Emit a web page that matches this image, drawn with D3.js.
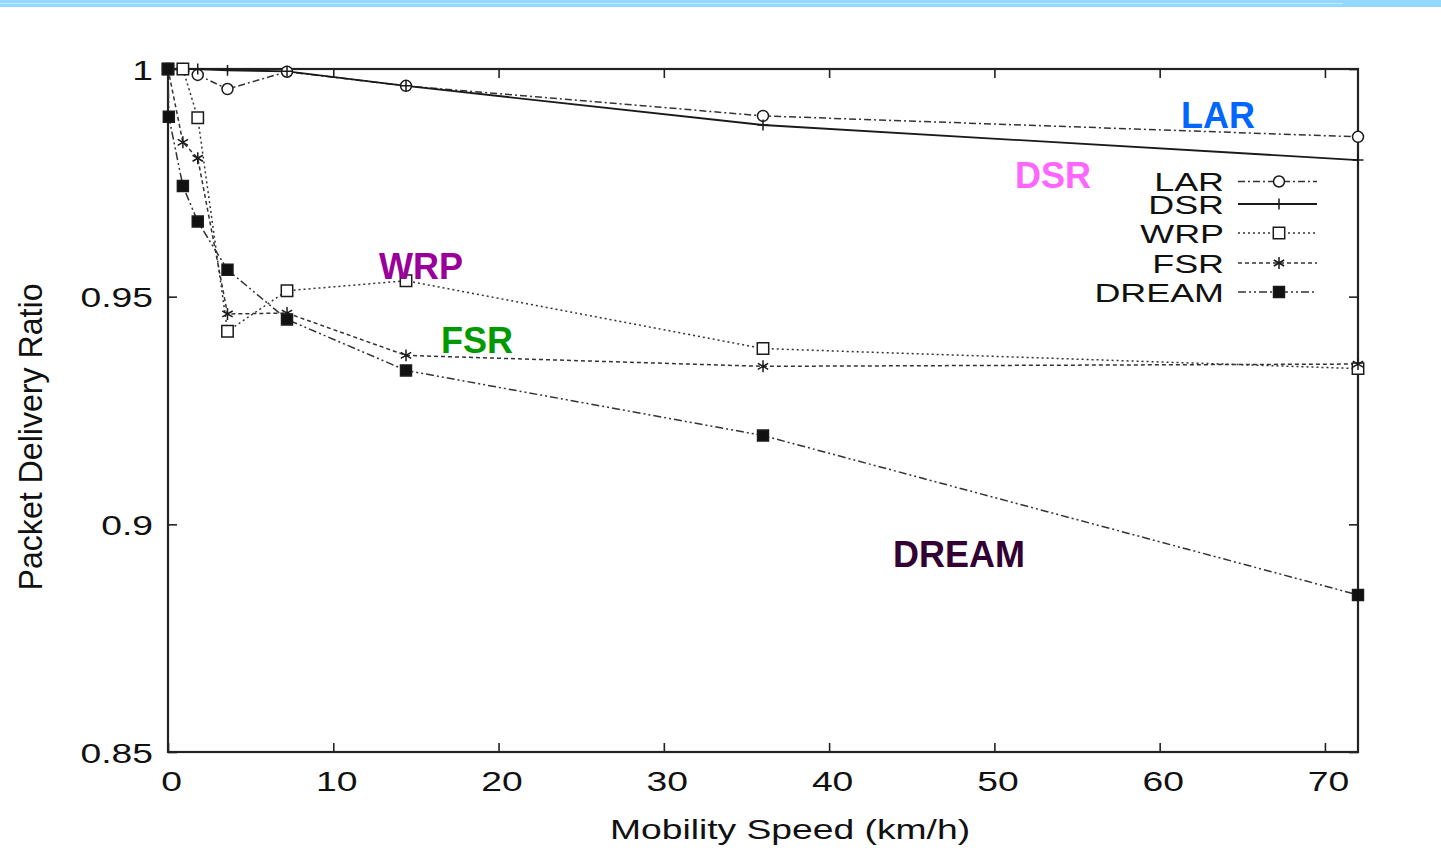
<!DOCTYPE html>
<html>
<head>
<meta charset="utf-8">
<script src="https://cdn.jsdelivr.net/npm/d3@7"></script>
<style>
  html, body { margin: 0; padding: 0; background: #fff; }
  svg { display: block; }
</style>
</head>
<body>
<div id="chart"></div>
<script>
// speeds in km/h
const speeds = [0, 0.9, 1.8, 3.6, 7.2, 14.4, 36, 72];
const dreamSpeeds = [0, 0.05, 0.9, 1.8, 3.6, 7.2, 14.4, 36, 72];

const lar = [1, 1, 0.9987, 0.9956, 0.9994, 0.9963, 0.9897, 0.9851];
const dsr = [1, 1, 1, 0.9997, 0.9995, 0.9963, 0.9877, 0.9800];
const wrp = [1, 1, 0.9893, 0.9424, 0.9513, 0.9535, 0.9386, 0.9342];
const fsr = [1, 0.9839, 0.9804, 0.9462, 0.9464, 0.9371, 0.9347, 0.9352];
const dream = [1, 0.9895, 0.9743, 0.9665, 0.9559, 0.9450, 0.9338, 0.9195, 0.8845];

const xTicks = [0, 10, 20, 30, 40, 50, 60, 70];
const yTicks = [0.85, 0.9, 0.95, 1];
const yTickLabels = ["0.85", "0.9", "0.95", "1"];

const seriesNames = ["LAR", "DSR", "WRP", "FSR", "DREAM"];
const labelColors = ["#0066ff", "#ff66ff", "#990099", "#009900", "#330033"];

const width = 1441, height = 866;
const margins = { top: 69, right: 83, bottom: 114, left: 168 };
const innerWidth = width - margins.left - margins.right;
const innerHeight = height - margins.top - margins.bottom;
const stretch = 1.33; // the scanned figure is wider than tall

const svg = d3.select("#chart").append("svg")
  .attr("width", width).attr("height", height)
  .style("font-family", "'Liberation Sans', Arial, Helvetica, sans-serif");

// widen a text horizontally without a transform
function widen(sel, k) {
  sel.each(function () {
    const w = this.getComputedTextLength();
    d3.select(this).attr("textLength", w * k).attr("lengthAdjust", "spacingAndGlyphs");
  });
}

// light blue band at the top of the slide
svg.append("rect").attr("x", 0).attr("y", 0).attr("width", width).attr("height", 7).attr("fill", "#93d9ff");
svg.append("line").attr("x1", 0).attr("x2", 1343).attr("y1", 3.5).attr("y2", 3.5)
  .attr("stroke", "#c4ecff").attr("stroke-width", 1);

const x = d3.scaleLinear().domain([0, 72]).range([0, innerWidth]);
const y = d3.scaleLinear().domain([0.85, 1]).range([innerHeight, 0]);

const g = svg.append("g").attr("transform", `translate(${margins.left},${margins.top})`);

// axes (inward ticks on all four sides)
function styleAxis(sel) {
  sel.select(".domain").remove();
  sel.selectAll(".tick line").attr("stroke", "#222").attr("stroke-width", 1.6);
}

const xAxisG = g.append("g").attr("transform", `translate(0,${innerHeight})`)
  .call(d3.axisBottom(x).tickValues(xTicks).tickSize(-9).tickFormat(d3.format("d")))
  .call(styleAxis);
xAxisG.selectAll("text")
  .attr("y", 39).attr("dy", null).attr("x", 3)
  .attr("font-size", 28).attr("fill", "#111")
  .call(widen, stretch);

// mirrored ticks on top and right, no labels
g.append("g")
  .call(d3.axisTop(x).tickValues(xTicks).tickSize(-9))
  .call(styleAxis)
  .call(a => a.selectAll("text").remove());

const yAxisG = g.append("g")
  .call(d3.axisLeft(y).tickValues(yTicks).tickSize(-9).tickFormat((d, i) => yTickLabels[i]))
  .call(styleAxis);
yAxisG.selectAll("text")
  .attr("x", -15).attr("dy", null).attr("y", 10)
  .attr("font-size", 28).attr("fill", "#111")
  .call(widen, stretch);

g.append("g").attr("transform", `translate(${innerWidth},0)`)
  .call(d3.axisRight(y).tickValues(yTicks).tickSize(-9))
  .call(styleAxis)
  .call(a => a.selectAll("text").remove());

// frame
g.append("rect").attr("width", innerWidth).attr("height", innerHeight)
  .attr("fill", "none").attr("stroke", "#222").attr("stroke-width", 2.2);

// axis titles
svg.append("text")
  .attr("x", 790).attr("y", 839)
  .attr("text-anchor", "middle").attr("font-size", 28).attr("fill", "#111")
  .text("Mobility Speed (km/h)")
  .call(widen, stretch);
svg.append("text")
  .attr("transform", "translate(42,437) rotate(-90)")
  .attr("text-anchor", "middle").attr("font-size", 34).attr("fill", "#111")
  .attr("textLength", 307).attr("lengthAdjust", "spacingAndGlyphs")
  .text("Packet Delivery Ratio");

// series
const plus = { draw(ctx, size) { const r = Math.sqrt(size) / 2; ctx.moveTo(-r, 0); ctx.lineTo(r, 0); ctx.moveTo(0, -r); ctx.lineTo(0, r); } };
const asterisk = d3.symbolAsterisk || d3.symbolCross;

const series = [
  { name: "LAR", xs: speeds, ys: lar, dash: "7,3,2,3", symbol: d3.symbolCircle, size: 95, fill: "#fff" },
  { name: "DSR", xs: speeds, ys: dsr, dash: null, symbol: plus, size: 120, fill: "none" },
  { name: "WRP", xs: speeds, ys: wrp, dash: "2,3", symbol: d3.symbolSquare, size: 130, fill: "#fff" },
  { name: "FSR", xs: speeds, ys: fsr, dash: "4,3", symbol: asterisk, size: 100, fill: "none" },
  { name: "DREAM", xs: dreamSpeeds, ys: dream, dash: "8,3,2,3,2,3", symbol: d3.symbolSquare, size: 120, fill: "#111" },
];

const line = d3.line().x(d => x(d[0])).y(d => y(d[1]));

series.forEach(s => {
  const pts = s.xs.map((v, i) => [v, s.ys[i]]);
  g.append("path").datum(pts)
    .attr("d", line).attr("fill", "none")
    .attr("stroke", s.dash ? "#333" : "#1a1a1a").attr("stroke-width", s.dash ? 1.5 : 1.8)
    .attr("stroke-dasharray", s.dash);
});
series.forEach(s => {
  const pts = s.xs.map((v, i) => [v, s.ys[i]]);
  g.selectAll(null).data(pts).join("path")
    .attr("transform", d => `translate(${x(d[0])},${y(d[1])})`)
    .attr("d", d3.symbol(s.symbol, s.size))
    .attr("fill", s.fill).attr("stroke", "#1a1a1a").attr("stroke-width", 1.5);
});

// legend
const legendRows = [181.5, 204, 233, 263, 292];
const legend = svg.append("g");
series.forEach((s, i) => {
  const cy = legendRows[i];
  legend.append("text")
    .attr("x", 1224).attr("y", cy + 9.5)
    .attr("text-anchor", "end").attr("font-size", 26).attr("fill", "#111")
    .text(s.name)
    .call(widen, 1.38);
  legend.append("line")
    .attr("x1", 1238).attr("x2", 1317).attr("y1", cy).attr("y2", cy)
    .attr("stroke", s.dash ? "#333" : "#1a1a1a").attr("stroke-width", s.dash ? 1.5 : 1.8)
    .attr("stroke-dasharray", s.dash);
  legend.append("path")
    .attr("transform", `translate(1279,${cy})`)
    .attr("d", d3.symbol(s.symbol, s.size))
    .attr("fill", s.fill).attr("stroke", "#1a1a1a").attr("stroke-width", 1.5);
});

// coloured annotations
const annotations = [
  { text: "LAR", x: 1181, y: 128 },
  { text: "DSR", x: 1015, y: 188 },
  { text: "WRP", x: 379, y: 279 },
  { text: "FSR", x: 441, y: 353 },
  { text: "DREAM", x: 893, y: 567 },
];
annotations.forEach(a => {
  svg.append("text")
    .attr("x", a.x).attr("y", a.y)
    .attr("font-size", 36).attr("font-weight", "bold")
    .attr("fill", labelColors[seriesNames.indexOf(a.text)])
    .text(a.text);
});
</script>
</body>
</html>
